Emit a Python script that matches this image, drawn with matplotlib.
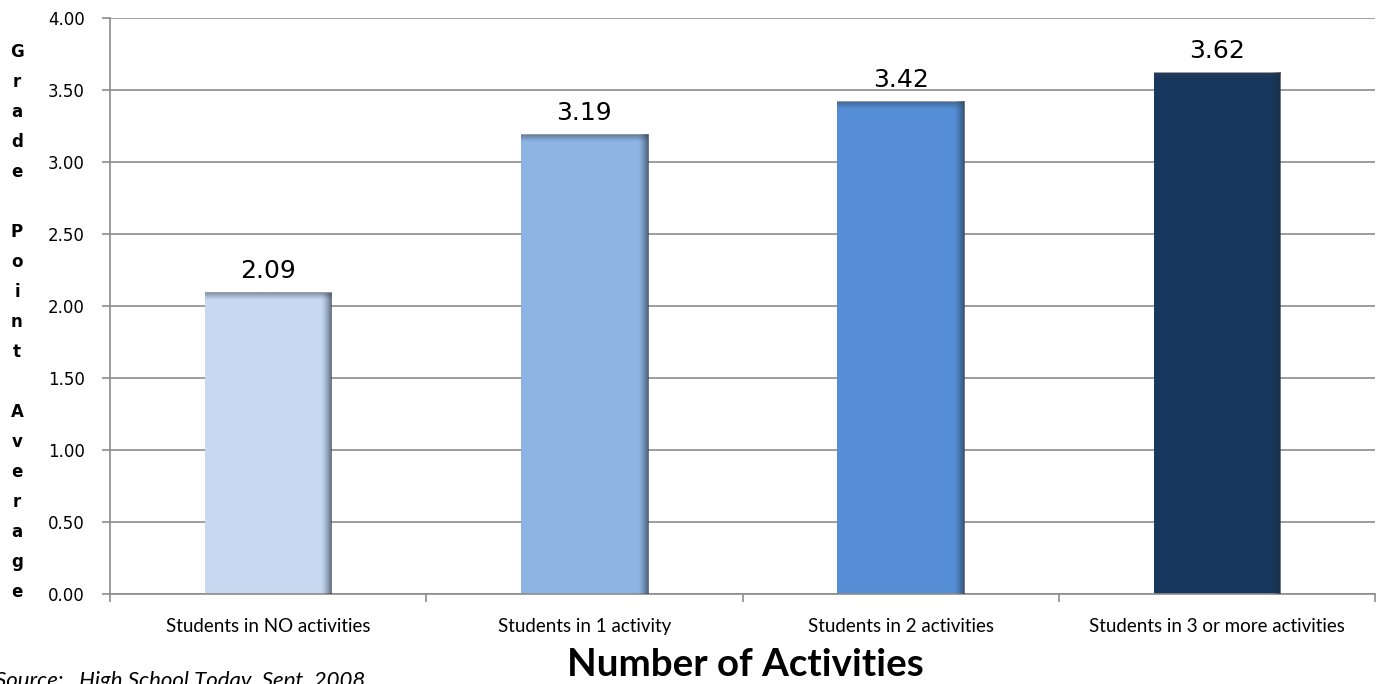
import numpy as np
import matplotlib.pyplot as plt

categories = ["Students in NO activities", "Students in 1 activity",
              "Students in 2 activities", "Students in 3 or more activities"]
gpa = [2.09, 3.19, 3.42, 3.62]
labels = ["2.09", "3.19", "3.42", "3.62"]
colors = ["#C6D9F1", "#8EB4E3", "#558ED5", "#17375E"]
yticks = [0.0, 0.5, 1.0, 1.5, 2.0, 2.5, 3.0, 3.5, 4.0]

W, H = 1379, 684
fig = plt.figure(figsize=(W / 100, H / 100), dpi=100)
ax = fig.add_axes([110 / W, 1 - 594 / H, (1375 - 110) / W, (594 - 18) / H])

x = np.arange(len(categories))
bw = 0.4
bars = ax.bar(x, gpa, width=bw, color=colors, zorder=2)

# bevel-like shading: dark right edge and a grey band on top
for b in bars:
    x0, x1 = b.get_x(), b.get_x() + b.get_width()
    h = b.get_height()
    ramp = np.zeros((1, 64, 4))
    ramp[..., 0:3] = [0.12, 0.16, 0.22]
    ramp[..., 3] = np.linspace(0, 1, 64) ** 1.4 * 0.65
    ax.imshow(ramp, extent=(x1 - 0.032, x1, 0, h), aspect="auto", zorder=3,
              interpolation="bilinear")
    top = np.zeros((64, 1, 4))
    top[..., 0:3] = [0.2, 0.25, 0.32]
    top[..., 3] = np.linspace(0.6, 0.0, 64)[:, None] ** 1.2
    ax.imshow(top, extent=(x0, x1, h - 0.05, h), aspect="auto", zorder=3,
              interpolation="bilinear", origin="upper")

for xi, v, t in zip(x, gpa, labels):
    ax.annotate(t, (xi, v), xytext=(0, 7), textcoords="offset points",
                ha="center", va="bottom", fontsize=18, family="DejaVu Sans")

ax.set_xlim(-0.5, 3.5)
ax.set_ylim(0, 4)
ax.set_yticks(yticks)
ax.set_yticklabels([f"{t:.2f}" for t in yticks], fontsize=12, family="DejaVu Sans")
ax.yaxis.grid(True, color="#8c8c8c", linewidth=1.2, zorder=0)
ax.set_axisbelow(True)

ax.set_xticks(np.arange(-0.5, 3.6, 1.0))
ax.set_xticklabels([])
ax.set_xticks(x, minor=True)
ax.set_xticklabels(categories, minor=True, fontsize=13.5, family="Lato")
ax.tick_params(axis="x", which="minor", length=0, pad=17)
ax.tick_params(axis="x", which="major", length=6, color="#8c8c8c", width=1.2)
ax.tick_params(axis="y", length=6, color="#8c8c8c", width=1.2, pad=12)

for s in ["top", "right"]:
    ax.spines[s].set_visible(False)
for s in ["left", "bottom"]:
    ax.spines[s].set_color("#8c8c8c")
    ax.spines[s].set_linewidth(1.2)

# y label written one letter per line
ylabel = "Grade Point Average"
for i, ch in enumerate(ylabel):
    fig.text(17 / W, 1 - (52 + i * 30) / H, ch, ha="center", va="center",
             fontsize=12, fontweight="bold", family="DejaVu Sans")

fig.text(745 / W, 1 - 665 / H, "Number of Activities", ha="center", va="center",
         fontsize=27.7, fontweight="bold", family="Lato")
fig.text(365 / W, 1 - 671 / H, "Source:   High School Today, Sept. 2008",
         ha="right", va="top", fontsize=16, style="italic", family="Lato")

fig.savefig("out.png", dpi=100)
